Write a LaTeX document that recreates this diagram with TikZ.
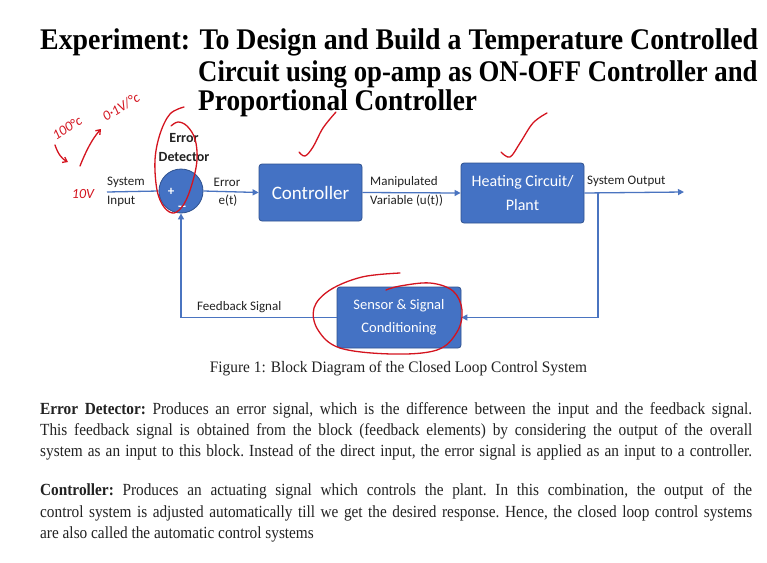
\documentclass[tikz,border=0pt]{standalone}
\usepackage{fontspec}
\setmainfont{Liberation Serif}
\newfontfamily\titlefont[FakeStretch=0.91]{Liberation Serif}
\newfontfamily\bodyfont[FakeStretch=0.90]{Liberation Serif}
\newfontfamily\capfont[FakeStretch=0.96]{Liberation Serif}
\newfontfamily\diagfont{Carlito}
\usetikzlibrary{arrows.meta}

\definecolor{boxblue}{HTML}{4472C4}
\definecolor{bordblue}{HTML}{2F528F}
\definecolor{lineblue}{HTML}{4A74C0}
\definecolor{inkred}{HTML}{D4141F}
\definecolor{txtdark}{HTML}{222222}

\tikzset{
  blk/.style={draw=bordblue, fill=boxblue, rounded corners=3pt, line width=0.8pt,
              text=white, align=center, inner sep=0pt},
  sig/.style={draw=lineblue, line width=1.3pt, -{Triangle[length=6pt,width=6pt]}},
  wire/.style={draw=lineblue, line width=1.3pt},
  lbl/.style={font=\diagfont\fontsize{13}{15}\selectfont, text=txtdark, inner sep=0pt},
  ink/.style={draw=inkred, line width=1.3pt, line cap=round, line join=round},
  inktext/.style={text=inkred, inner sep=0pt, font=\diagfont\itshape\fontsize{14}{14}\selectfont},
  titleline/.style={anchor=base west, inner sep=0pt, font=\titlefont\bfseries\fontsize{30}{30}\selectfont},
  bodyline/.style={anchor=base west, inner sep=0pt, font=\bodyfont\fontsize{17}{17}\selectfont\frenchspacing, text=txtdark},
}

\begin{document}
\begin{tikzpicture}[x=1pt, y=-1pt]
\useasboundingbox[fill=white] (0,0) rectangle (767,562);

% ---- title ----
\node[titleline] (t1) at (40,49) {\scalebox{1.02}[1]{Experiment: To Design and Build a Temperature Controlled}};
\node[titleline] (t2) at (198,81) {\scalebox{0.98}[1]{Circuit using op-amp as ON-OFF Controller and}};
\node[titleline] (t3) at (198,110) {Proportional Controller};

% ---- block diagram ----
\node[circle, fill=boxblue, draw=bordblue, line width=0.8pt, minimum size=44pt, inner sep=0pt] (sum) at (181,191) {};
\node[text=white, font=\diagfont\bfseries\fontsize{13}{13}\selectfont, inner sep=0pt] (plus) at (171,192) {+};
\node[text=white, font=\diagfont\bfseries\fontsize{13}{13}\selectfont, inner sep=0pt] (minus) at (182,208) {--};

\node[blk, minimum width=103pt, minimum height=57pt, font=\diagfont\fontsize{19}{19}\selectfont] (ctrl) at (310.5,192.5) {Controller};
\node[blk, minimum width=123pt, minimum height=60pt, font=\diagfont\fontsize{16}{24}\selectfont] (plant) at (522.5,193) {Heating Circuit/\\Plant};
\node[blk, minimum width=124pt, minimum height=61pt, font=\diagfont\fontsize{14.5}{23}\selectfont] (sensor) at (399,317.5) {Sensor \& Signal\\Conditioning};

\coordinate (in) at (107,192);
\coordinate (out) at (684,192);
\coordinate (tap) at (598,192);

\draw[wire] (in) -- (sum.west);
\draw[sig] (sum.east) -- (ctrl.west);
\draw[sig] (ctrl.east) -- (plant.west);
\draw[sig] (plant.east) -- (out);
\draw[sig] (tap) |- (sensor.east);
\draw[sig] (sensor.west) -| (sum.south);

% labels on the signals
\node[lbl, anchor=west] (sysin1) at (107,182) {System};
\node[lbl, anchor=west] (sysin2) at (107,201) {Input};
\node[lbl, font=\diagfont\bfseries\fontsize{14}{14}\selectfont] (ed1) at (184,138) {Error};
\node[lbl, font=\diagfont\bfseries\fontsize{14}{14}\selectfont] (ed2) at (184,157) {Detector};
\node[lbl] (err1) at (227,182) {Error};
\node[lbl] (err2) at (228,201) {e(t)};
\node[lbl, anchor=west] (mv1) at (370,182) {Manipulated};
\node[lbl, anchor=west] (mv2) at (370,201) {Variable (u(t))};
\node[lbl, anchor=west] (so) at (587,181) {System Output};
\node[lbl, anchor=west] (fb) at (197,307) {Feedback Signal};

% caption
\node[anchor=base, inner sep=0pt, font=\capfont\fontsize{16}{16}\selectfont, text=txtdark] (cap) at (398.5,372)
  {Figure 1: Block Diagram of the Closed Loop Control System};

% ---- description text ----
\node[bodyline] (p1a) at (40,414) {\makebox[712pt][s]{\textbf{Error Detector:} Produces an error signal, which is the difference between the input and the feedback signal.}};
\node[bodyline] (p1b) at (40,435) {\makebox[712pt][s]{This feedback signal is obtained from the block (feedback elements) by considering the output of the overall}};
\node[bodyline] (p1c) at (40,456) {\makebox[712pt][s]{system as an input to this block. Instead of the direct input, the error signal is applied as an input to a controller.}};
\node[bodyline] (p2a) at (40,495) {\makebox[712pt][s]{\textbf{Controller:} Produces an actuating signal which controls the plant. In this combination, the output of the}};
\node[bodyline] (p2b) at (40,517) {\makebox[712pt][s]{control system is adjusted automatically till we get the desired response. Hence, the closed loop control systems}};
\node[bodyline] (p2c) at (40,538) {are also called the automatic control systems};

% ---- red pen annotations ----
\node[inktext, rotate=32] (h1) at (67,128) {100\textdegree c};
\node[inktext, rotate=32] (h2) at (121,107) {0·1V/\textdegree c};
\node[inktext] (h3) at (83,194) {10V};
\draw[ink, -{Straight Barb[length=4pt,width=6pt]}] (55,145) .. controls (58,154) and (62,159) .. (68,162);
\draw[ink, -{Straight Barb[length=4pt,width=6pt]}] (80,166) .. controls (86,151) and (92,139) .. (101,129);
\draw[ink] plot[smooth, tension=0.6] coordinates {(184,107) (170,114) (160,134) (155,160) (157,190) (164,207) (174,213) (184,204) (192,184) (197,160) (195,139) (187,126) (178,122) (171,126)};
\draw[ink] plot[smooth, tension=0.6] coordinates {(299,152) (305,156) (313,147) (323,128) (336,112)};
\draw[ink] plot[smooth, tension=0.6] coordinates {(501,152) (510,157) (520,143) (533,123) (547,113)};
\draw[ink] plot[smooth, tension=0.6] coordinates {(400,273) (362,277) (330,290) (314,308) (318,330) (340,348) (392,354) (437,350) (457,332) (462,310) (453,291) (430,283) (400,286) (386,290)};
\end{tikzpicture}
\end{document}
